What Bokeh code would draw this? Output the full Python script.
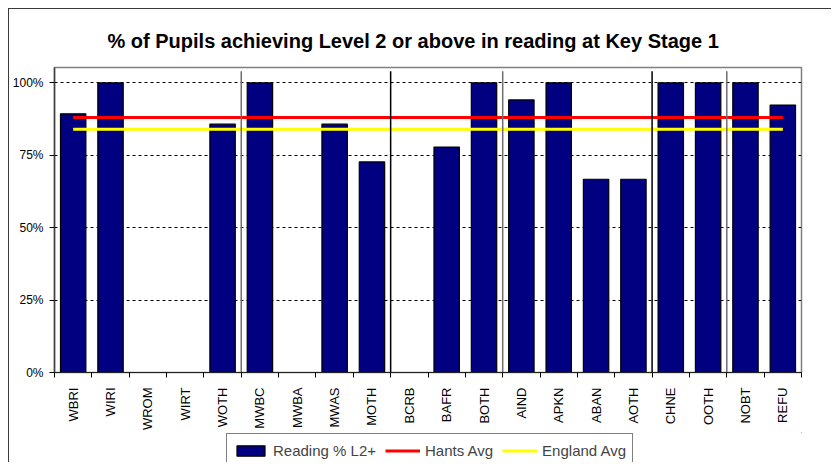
import numpy as np
from bokeh.plotting import figure
from bokeh.layouts import column
from bokeh.models import (Range1d, FixedTicker, PrintfTickFormatter, Legend,
                          LegendItem, ColumnDataSource)
from bokeh.embed import file_html
from bokeh.resources import INLINE

# ---- data ----
categories = ["WBRI", "WIRI", "WROM", "WIRT", "WOTH",
              "MWBC", "MWBA", "MWAS", "MOTH",
              "BCRB", "BAFR", "BOTH",
              "AIND", "APKN", "ABAN", "AOTH",
              "CHNE", "OOTH",
              "NOBT", "REFU"]
reading_pct = [89.3, 100, None, None, 85.7,
               100, None, 85.7, 72.7,
               None, 77.8, 100,
               94.1, 100, 66.7, 66.7,
               100, 100,
               100, 92.3]
hants_avg = 88.0
england_avg = 84.0
group_sizes = [5, 4, 3, 4, 2, 2]   # White, Mixed, Black, Asian, Chinese/Other, rest
y_ticks = [0, 25, 50, 75, 100]
series_names = ["Reading % L2+", "Hants Avg", "England Avg"]
title_text = "% of Pupils achieving Level 2 or above in reading at Key Stage 1"

FONT = "Liberation Sans"
BAR_FILL = "#000080"
HANTS_COL = "#ff0000"
ENG_COL = "#ffff00"

n = len(categories)
centers = np.arange(n) + 0.5
boundaries = list(range(n + 1))
tops = [np.nan if v is None else v for v in reading_pct]

p = figure(width=823, height=424, output_backend="svg", toolbar_location=None,
           x_range=Range1d(0, n), y_range=Range1d(0, 105.28),
           min_border_left=45, min_border_right=31,
           min_border_top=58, min_border_bottom=61)
p.styles = {"margin-left": "8px", "margin-top": "8px",
            "border-left": "1px solid #3a3a3a", "border-top": "1px solid #3a3a3a"}
p.background_fill_color = "white"
p.border_fill_color = "white"
p.outline_line_color = "#808080"
p.outline_line_width = 1.5

# title
p.title.text = title_text
p.title.align = "left"
p.title.offset = 53
p.title.text_font = FONT
p.title.text_font_size = "20px"
p.title.text_font_style = "bold"
p.title.text_color = "black"
p.title.standoff = 31

src = ColumnDataSource(dict(x=centers, top=tops, name=categories))
p.vbar(x="x", top="top", width=0.68, bottom=0, source=src,
       fill_color=BAR_FILL, line_color="black", line_width=1.2)

p.line(x=[centers[0], centers[-1]], y=[hants_avg, hants_avg],
       line_color=HANTS_COL, line_width=3)
p.line(x=[centers[0], centers[-1]], y=[england_avg, england_avg],
       line_color=ENG_COL, line_width=3)

# group separators
seps = np.cumsum(group_sizes)[:-1]
sep_colors = ["#6e6e6e", "#000000", "#6e6e6e", "#000000", "#6e6e6e"]
p.segment(x0=seps, x1=seps, y0=0, y1=104, line_color=sep_colors, line_width=1.5)

# axes
xa = p.xaxis[0]
xa.ticker = FixedTicker(ticks=list(centers), minor_ticks=boundaries)
xa.major_label_overrides = {float(c): name for c, name in zip(centers, categories)}
xa.major_label_orientation = np.pi / 2
xa.major_tick_line_color = None
xa.major_tick_out = 0
xa.major_tick_in = 0
xa.minor_tick_line_color = "black"
xa.minor_tick_out = 5
xa.minor_tick_in = 0
xa.major_label_standoff = 10
xa.major_label_text_font = FONT
xa.major_label_text_font_size = "13px"
xa.major_label_text_color = "black"
xa.axis_line_color = "#222222"
xa.axis_line_width = 1

ya = p.yaxis[0]
ya.ticker = FixedTicker(ticks=y_ticks)
ya.formatter = PrintfTickFormatter(format="%d%%")
ya.major_tick_out = 5
ya.major_tick_in = 0
ya.minor_tick_line_color = None
ya.major_tick_line_color = "black"
ya.major_label_standoff = 6
ya.major_label_text_font = FONT
ya.major_label_text_font_size = "12px"
ya.major_label_text_color = "black"
ya.axis_line_color = "#404040"
ya.axis_line_width = 1.5

p.xgrid.visible = False
p.ygrid.ticker = FixedTicker(ticks=y_ticks)
p.ygrid.grid_line_color = "black"
p.ygrid.grid_line_dash = "3 3"
p.ygrid.grid_line_width = 1

# ---- legend strip (separate figure under the chart) ----
lg = figure(width=823, height=30, output_backend="svg", toolbar_location=None,
            x_range=Range1d(0, 1), y_range=Range1d(0, 1),
            x_axis_location=None, y_axis_location=None,
            min_border=0)
lg.styles = {"margin-left": "8px", "border-left": "1px solid #3a3a3a"}
lg.outline_line_color = None
lg.xgrid.visible = False
lg.ygrid.visible = False
lg.background_fill_color = "white"
lg.border_fill_color = "white"
# legend-only renderers, kept outside the strip's visible range
r_bar = lg.vbar(x=[5], top=[5], bottom=[4], width=0.5, fill_color=BAR_FILL,
                line_color="black", line_width=1.2)
r_h = lg.line(x=[5, 6], y=[5, 5], line_color=HANTS_COL, line_width=3)
r_e = lg.line(x=[5, 6], y=[6, 6], line_color=ENG_COL, line_width=3)

legend = Legend(items=[LegendItem(label=series_names[0], renderers=[r_bar]),
                       LegendItem(label=series_names[1], renderers=[r_h]),
                       LegendItem(label=series_names[2], renderers=[r_e])],
                orientation="horizontal", location=(172, -5))
legend.border_line_color = "black"
legend.border_line_width = 1
legend.background_fill_color = "white"
legend.background_fill_alpha = 1
legend.label_text_font = FONT
legend.label_text_font_size = "15px"
legend.glyph_width = 35
legend.glyph_height = 13
legend.label_height = 20
legend.label_standoff = 5
legend.spacing = 9
legend.padding = 6
legend.margin = 0
lg.add_layout(legend, "center")

layout = column(p, lg, spacing=0)
open("out.html", "w").write(file_html(layout, INLINE))
